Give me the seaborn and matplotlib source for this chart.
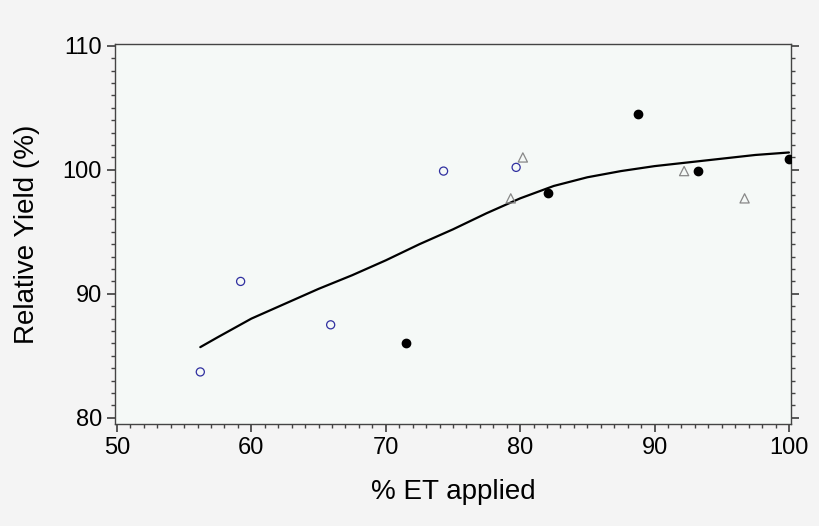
import matplotlib
matplotlib.use("Agg")
import matplotlib.pyplot as plt
import seaborn as sns
import pandas as pd
from matplotlib.ticker import MultipleLocator

# observations by group
circ_x = [56.2, 59.2, 65.9, 74.3, 79.7]
circ_y = [83.7, 91.0, 87.5, 99.9, 100.2]
dot_x = [71.5, 82.1, 88.8, 93.2, 100.0]
dot_y = [86.0, 98.1, 104.5, 99.9, 100.9]
tri_x = [79.3, 80.2, 92.2, 96.7]
tri_y = [97.7, 101.0, 99.9, 97.7]

# fitted curve
fit_x = [56.2, 57.5, 60, 62.5, 65, 67.5, 70, 72.5, 75, 77.5, 80, 82.5, 85, 87.5, 90, 92.5, 95, 97.5, 100]
fit_y = [85.7, 86.5, 88.0, 89.2, 90.4, 91.5, 92.7, 94.0, 95.2, 96.5, 97.7, 98.7, 99.4, 99.9, 100.3, 100.6, 100.9, 101.2, 101.4]

sns.set_theme(style="ticks")
plt.rcParams['font.family'] = ['Liberation Sans', 'DejaVu Sans']

fig = plt.figure(figsize=(8.2, 5.26), dpi=100, facecolor='#f4f4f4')
ax = fig.add_axes([0.1402, 1 - 424/526, (791 - 115)/820, (424 - 44)/526])
ax.set_facecolor('#f5f9f7')

df_fit = pd.DataFrame({'x': fit_x, 'y': fit_y})
sns.lineplot(data=df_fit, x='x', y='y', ax=ax, color='black', linewidth=1.6)
ax.scatter(circ_x, circ_y, s=34, facecolors='none', edgecolors='#3030a0', linewidths=0.9, zorder=3)
ax.scatter(dot_x, dot_y, s=36, color='black', zorder=3)
ax.scatter(tri_x, tri_y, s=44, marker='^', facecolors='none', edgecolors='#888888', linewidths=0.9, zorder=3)

ax.set_xlim(49.85, 100.15)
ax.set_ylim(79.5, 110.15)
ax.xaxis.set_major_locator(MultipleLocator(10))
ax.xaxis.set_minor_locator(MultipleLocator(1))
ax.yaxis.set_major_locator(MultipleLocator(10))
ax.yaxis.set_minor_locator(MultipleLocator(1))
ax.tick_params(which='both', direction='out', right=True, color='#444444')
ax.tick_params(which='major', length=6, labelsize=17, labelcolor='black')
ax.tick_params(which='minor', length=3)
for s in ax.spines.values():
    s.set_color('#444444')
    s.set_linewidth(1.0)

ax.set_xlabel('% ET applied', fontsize=20, labelpad=14, color='black')
ax.set_ylabel('Relative Yield (%)', fontsize=20, labelpad=16, color='black')

fig.savefig('out.png', dpi=100, facecolor=fig.get_facecolor())
